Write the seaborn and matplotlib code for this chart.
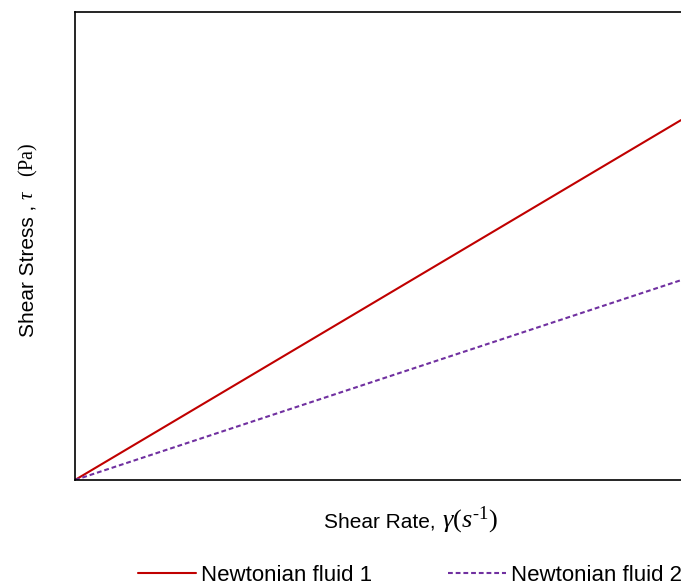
import matplotlib
matplotlib.use("Agg")
import matplotlib.pyplot as plt
import seaborn as sns
import pandas as pd

# shear rate (arbitrary units) and stress for two Newtonian fluids
shear_rate = [0, 10]
stress_fluid_1 = [0, 7.69]
stress_fluid_2 = [0, 4.27]
series_names = ["Newtonian fluid 1", "Newtonian fluid 2"]

df = pd.DataFrame({
    "rate": shear_rate * 2,
    "stress": stress_fluid_1 + stress_fluid_2,
    "fluid": [series_names[0]] * 2 + [series_names[1]] * 2,
})

sns.set_style("white")
plt.rcParams["font.family"] = ["Liberation Sans", "DejaVu Sans"]
plt.rcParams["mathtext.fontset"] = "custom"
plt.rcParams["mathtext.rm"] = "Liberation Serif"
plt.rcParams["mathtext.it"] = "Liberation Serif:italic"
plt.rcParams["text.color"] = "black"

W, H = 681, 586
fig = plt.figure(figsize=(W / 100, H / 100), dpi=100)
ax = fig.add_axes([75 / W, 106 / H, 1 - 75 / W, 468 / H])

sns.lineplot(
    data=df, x="rate", y="stress", hue="fluid", style="fluid",
    palette=["#c00000", "#7030a0"], dashes=[(None, None), (2.3, 1.4)],
    linewidth=1.5, ax=ax, legend=False,
)
ax.set_xlim(0, 10)
ax.set_ylim(0, 10)
ax.set_xticks([])
ax.set_yticks([])
ax.set_xlabel("")
ax.set_ylabel("")
ax.spines["right"].set_visible(False)
for s in ["left", "top", "bottom"]:
    ax.spines[s].set_color("black")
    ax.spines[s].set_linewidth(1.2)

# axis titles: sans-serif words followed by serif math symbols
fig.text(435 / W, 1 - 527 / H, "Shear Rate,", fontsize=15,
         ha="right", va="baseline")
fig.text(442 / W, 1 - 527 / H, r"$\gamma(s^{\text{-1}})$", fontsize=19,
         ha="left", va="baseline")
rot = dict(va="baseline", rotation=90, rotation_mode="anchor")
fig.text(33 / W, 1 - 337 / H, "Shear Stress ,", fontsize=15, ha="left", **rot)
fig.text(33 / W, 1 - 200 / H, r"$\tau$", fontsize=15, ha="left", **rot)
fig.text(33 / W, 1 - 177 / H, r"$\mathrm{(Pa)}$", fontsize=14.5, ha="left", **rot)

handles = ax.get_lines()[:2]
fig.legend(
    handles, series_names, loc="lower center", bbox_to_anchor=(410 / W, 0.0),
    ncol=2, frameon=False, fontsize=16, handlelength=2.6, columnspacing=3.4,
    handletextpad=0.25, borderpad=0, borderaxespad=0,
)

fig.savefig("out.png", dpi=100)
plt.close(fig)
